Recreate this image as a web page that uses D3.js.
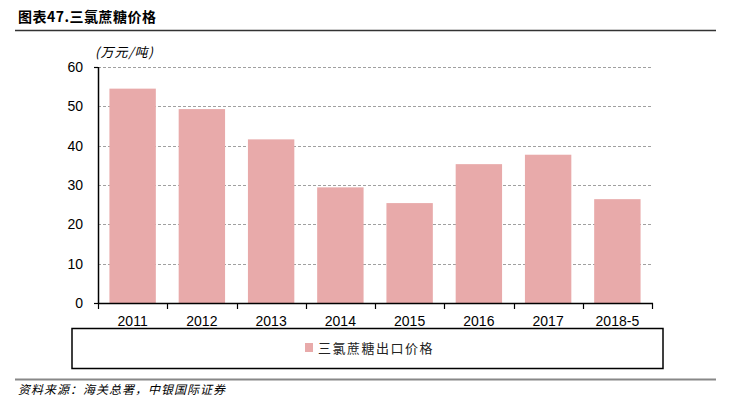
<!doctype html>
<html>
  <head>
    <meta charset="utf-8">
    <script src="https://cdnjs.cloudflare.com/ajax/libs/d3/7.8.5/d3.min.js"></script>
    <style>
      body { margin: 0; background: #fff; }
      svg { display: block; }
    </style>
  </head>
  <body>
    <svg id="chart" width="733" height="398"></svg>
    <script>
        var years = ["2011", "2012", "2013", "2014", "2015", "2016", "2017", "2018-5"];
        var prices = [54.5, 49.3, 41.6, 29.4, 25.4, 35.3, 37.7, 26.4];
        var yTicks = [0, 10, 20, 30, 40, 50, 60];
        var seriesName = "三氯蔗糖出口价格";
        var unitLabel = "(万元/吨)";
        var titleText = "图表47.三氯蔗糖价格";
        var sourceText = "资料来源：海关总署，中银国际证券";

        var svg = d3.select("#chart");
        var plotLeft = 98, plotRight = 652, plotTop = 67, plotBottom = 303;
        var cjk = "'Noto Sans CJK SC', sans-serif";
        var latin = "'Liberation Sans', Arial, sans-serif";
        var barColor = "#e8aaaa";

        // title + rule
        svg.append("text")
            .attr("x", 18).attr("y", 22)
            .style("font-family", cjk).style("font-weight", "bold").style("font-size", "14px")
            .style("letter-spacing", "0.5px")
            .text(titleText);
        svg.append("line")
            .attr("x1", 15).attr("x2", 716).attr("y1", 30.5).attr("y2", 30.5)
            .style("stroke", "#333").style("stroke-width", 1.5);

        var x = d3.scaleBand().domain(years).range([plotLeft, plotRight]).paddingInner(0.33).paddingOuter(0.165);
        var y = d3.scaleLinear().domain([0, 60]).range([plotBottom, plotTop]);

        // gridlines
        svg.append("g").selectAll("line")
            .data(yTicks.filter(d => d > 0))
            .enter().append("line")
                .attr("x1", plotLeft).attr("x2", plotRight)
                .attr("y1", d => Math.round(y(d)) + 0.5).attr("y2", d => Math.round(y(d)) + 0.5)
                .style("stroke", "#a0a0a0").style("stroke-dasharray", "3,2").style("stroke-width", 1);

        // bars
        svg.append("g").selectAll("rect")
            .data(prices)
            .enter().append("rect")
                .attr("x", (d, i) => x(years[i]))
                .attr("width", x.bandwidth())
                .attr("y", d => y(d))
                .attr("height", d => plotBottom - y(d))
                .style("fill", barColor);

        // y axis
        var yAxis = svg.append("g")
            .attr("transform", "translate(" + plotLeft + ",0)")
            .call(d3.axisLeft(y).tickValues(yTicks).tickSize(4).tickPadding(11));
        yAxis.select(".domain").attr("d", "M0.5," + plotTop + "V" + plotBottom).style("stroke", "#000").style("stroke-width", 1.5);
        yAxis.selectAll(".tick line").style("stroke", "#000").style("stroke-width", 1.2)
            .attr("display", d => (d === 0 || d === 60) ? null : "none");
        yAxis.selectAll("text")
            .style("font-family", latin).style("font-size", "14px").style("fill", "#000");

        // x axis with ticks at band boundaries
        var xAxis = svg.append("g").attr("transform", "translate(0," + plotBottom + ")");
        xAxis.append("line")
            .attr("x1", plotLeft).attr("x2", plotRight + 1).attr("y1", 0.5).attr("y2", 0.5)
            .style("stroke", "#000").style("stroke-width", 1.5);
        var step = x.step();
        var bounds = d3.range(years.length + 1).map(i => plotLeft + i * step);
        xAxis.selectAll("line.tk")
            .data(bounds)
            .enter().append("line").attr("class", "tk")
                .attr("x1", d => Math.round(d) + 0.5).attr("x2", d => Math.round(d) + 0.5)
                .attr("y1", 0).attr("y2", 6)
                .style("stroke", "#000").style("stroke-width", 1.2);
        xAxis.selectAll("text")
            .data(years)
            .enter().append("text")
                .attr("x", d => x(d) + x.bandwidth() / 2)
                .attr("y", 23)
                .attr("text-anchor", "middle")
                .style("font-family", latin).style("font-size", "14px")
                .text(d => d);

        // unit label
        svg.append("text")
            .attr("x", 95).attr("y", 57)
            .style("font-family", cjk).style("font-style", "italic").style("font-size", "13px")
            .style("letter-spacing", "1px")
            .text(unitLabel);

        // legend box
        svg.append("rect")
            .attr("x", 72).attr("y", 328.5).attr("width", 591).attr("height", 40)
            .style("fill", "none").style("stroke", "#000").style("stroke-width", 1.5);
        svg.append("rect")
            .attr("x", 305).attr("y", 343).attr("width", 8).attr("height", 9)
            .style("fill", barColor);
        svg.append("text")
            .attr("x", 318).attr("y", 353)
            .style("font-family", cjk).style("font-size", "13px").style("fill", "#222")
            .style("letter-spacing", "1.5px")
            .text(seriesName);

        // footer
        svg.append("line")
            .attr("x1", 15).attr("x2", 716).attr("y1", 379.5).attr("y2", 379.5)
            .style("stroke", "#888").style("stroke-width", 2);
        svg.append("text")
            .attr("x", 18).attr("y", 394)
            .style("font-family", cjk).style("font-style", "italic").style("font-size", "12px")
            .style("letter-spacing", "1px")
            .text(sourceText);
    </script>
  </body>
</html>
